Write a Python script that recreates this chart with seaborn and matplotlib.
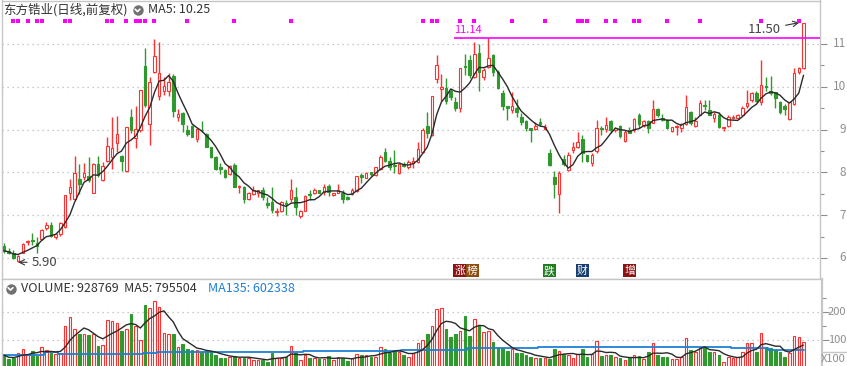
import numpy as np
import pandas as pd
import matplotlib
matplotlib.use("Agg")
import matplotlib.pyplot as plt
import matplotlib.transforms as mtransforms
from matplotlib.lines import Line2D
import seaborn as sns

# daily candles (前复权)
opens = [6.28, 6.17, 6.11, 5.94, 6.12, 6.38, 6.42, 6.34, 6.44, 6.69,
         6.77, 6.48, 6.56, 6.72, 7.53, 7.39, 7.84, 7.90, 7.92, 7.53,
         8.20, 7.82, 8.27, 8.37, 8.68, 8.38, 8.04, 9.29, 8.80, 8.99,
         10.49, 9.12, 10.35, 9.79, 9.91, 9.91, 10.25, 9.29, 9.38, 8.99,
         9.08, 8.77, 9.00, 8.90, 8.59, 8.35, 8.13, 8.06, 7.96, 8.17,
         7.65, 7.67, 7.37, 7.50, 7.51, 7.59, 7.29, 7.32, 7.07, 7.10,
         7.28, 7.37, 7.42, 6.98, 7.10, 7.48, 7.51, 7.59, 7.55, 7.68,
         7.47, 7.53, 7.53, 7.43, 7.50, 7.57, 7.94, 7.88, 8.00, 7.94,
         8.07, 8.48, 8.27, 8.17, 7.98, 8.20, 8.13, 8.21, 8.25, 8.48,
         9.09, 8.87, 10.18, 9.96, 9.98, 9.90, 9.64, 9.50, 10.49, 10.63,
         10.24, 10.78, 10.24, 10.47, 10.74, 10.34, 9.85, 9.54, 9.46, 9.50,
         9.30, 9.19, 9.03, 9.01, 9.18, 9.01, 8.45, 7.90, 7.49, 8.31,
         8.06, 8.52, 8.60, 8.78, 8.41, 8.21, 8.49, 9.03, 9.01, 9.21,
         8.99, 9.08, 8.74, 9.00, 8.98, 9.34, 9.11, 9.19, 9.16, 9.47,
         9.26, 9.22, 8.97, 9.05, 9.03, 9.13, 9.40, 9.08, 9.34, 9.58,
         9.46, 9.26, 9.34, 9.03, 9.09, 9.26, 9.28, 9.34, 9.54, 9.69,
         9.85, 9.64, 10.03, 9.90, 9.87, 9.64, 9.56, 9.25, 9.59, 10.34,
         10.45]
highs = [6.34, 6.23, 6.19, 6.07, 6.34, 6.42, 6.59, 6.50, 6.67, 6.83,
         6.83, 6.59, 6.85, 7.47, 7.84, 8.38, 8.20, 8.23, 8.35, 8.23,
         8.38, 8.25, 8.82, 9.30, 9.32, 8.41, 9.07, 9.49, 9.55, 9.93,
         10.90, 10.24, 11.11, 11.05, 10.24, 10.33, 10.31, 9.47, 9.42, 9.11,
         9.11, 9.03, 9.21, 8.91, 8.59, 8.38, 8.21, 8.07, 8.17, 8.21,
         7.71, 7.68, 7.55, 7.68, 7.60, 7.67, 7.43, 7.67, 7.16, 7.34,
         7.36, 7.84, 7.65, 7.12, 7.47, 7.60, 7.63, 7.60, 7.74, 7.73,
         7.53, 7.74, 7.60, 7.45, 7.63, 7.92, 7.98, 8.00, 8.02, 8.13,
         8.41, 8.56, 8.35, 8.52, 8.21, 8.25, 8.29, 8.37, 8.70, 9.03,
         9.40, 9.79, 10.74, 10.29, 10.20, 9.95, 9.75, 10.45, 10.76, 10.74,
         11.05, 10.99, 10.45, 11.14, 10.76, 10.39, 9.92, 9.54, 9.89, 9.71,
         9.38, 9.22, 9.03, 9.18, 9.26, 9.12, 8.55, 8.03, 8.03, 8.41,
         8.48, 8.72, 8.95, 8.87, 8.41, 8.45, 9.22, 9.08, 9.30, 9.22,
         9.07, 9.11, 8.99, 9.05, 9.26, 9.38, 9.22, 9.22, 9.68, 9.50,
         9.36, 9.24, 9.07, 9.11, 9.16, 9.81, 9.44, 9.30, 9.69, 9.69,
         9.69, 9.40, 9.42, 9.07, 9.34, 9.34, 9.36, 9.54, 9.93, 9.87,
         9.90, 10.63, 10.24, 10.26, 9.89, 9.67, 9.59, 9.65, 10.45, 10.47,
         11.50]
lows = [6.12, 6.09, 5.97, 5.90, 6.11, 6.30, 6.30, 6.12, 6.42, 6.65,
        6.50, 6.45, 6.51, 6.69, 7.35, 7.35, 7.50, 7.82, 7.78, 7.51,
        7.90, 7.81, 8.25, 8.07, 8.48, 8.04, 8.02, 8.91, 8.56, 8.95,
        9.52, 8.64, 10.33, 9.69, 9.81, 9.79, 9.30, 9.19, 8.95, 8.85,
        8.82, 8.72, 8.95, 8.59, 8.33, 8.06, 7.96, 7.88, 7.94, 7.65,
        7.51, 7.28, 7.35, 7.47, 7.43, 7.35, 7.16, 7.06, 6.97, 7.08,
        7.00, 7.32, 7.00, 6.93, 7.09, 7.36, 7.50, 7.52, 7.47, 7.45,
        7.45, 7.51, 7.28, 7.36, 7.47, 7.55, 7.76, 7.87, 7.92, 7.92,
        8.06, 8.25, 8.06, 7.98, 7.97, 8.12, 8.07, 8.10, 8.21, 8.45,
        8.80, 8.86, 10.08, 9.67, 9.59, 9.69, 9.43, 9.40, 10.28, 10.21,
        10.21, 9.90, 10.16, 10.45, 10.26, 9.96, 9.46, 9.22, 9.38, 9.30,
        9.11, 8.97, 8.72, 8.99, 9.09, 8.99, 8.16, 7.41, 7.04, 8.14,
        8.04, 8.46, 8.56, 8.25, 8.25, 8.15, 8.46, 8.87, 8.95, 8.93,
        8.95, 8.80, 8.72, 8.91, 8.95, 9.03, 9.07, 8.91, 9.15, 9.30,
        9.21, 9.01, 8.95, 8.87, 8.95, 9.11, 9.11, 9.07, 9.33, 9.46,
        9.34, 9.17, 9.03, 8.97, 9.07, 9.25, 9.25, 9.33, 9.51, 9.64,
        9.64, 9.58, 9.90, 9.81, 9.51, 9.36, 9.33, 9.22, 9.58, 10.29,
        10.42]
closes = [6.17, 6.12, 5.99, 6.05, 6.33, 6.40, 6.40, 6.27, 6.65, 6.77,
          6.52, 6.56, 6.81, 7.47, 7.67, 7.98, 7.73, 7.98, 7.82, 8.20,
          7.94, 8.15, 8.62, 8.56, 8.90, 8.27, 9.07, 8.98, 9.01, 9.93,
          9.57, 10.12, 10.72, 10.33, 10.02, 10.12, 9.44, 9.36, 9.13, 8.90,
          8.83, 9.01, 8.98, 8.60, 8.35, 8.09, 8.09, 7.90, 8.15, 7.67,
          7.68, 7.39, 7.51, 7.60, 7.59, 7.43, 7.24, 7.11, 7.10, 7.32,
          7.26, 7.60, 7.18, 7.10, 7.46, 7.47, 7.60, 7.53, 7.65, 7.55,
          7.51, 7.59, 7.39, 7.37, 7.59, 7.92, 7.90, 7.99, 7.97, 8.12,
          8.37, 8.27, 8.12, 8.15, 8.20, 8.15, 8.25, 8.27, 8.54, 8.99,
          8.91, 9.79, 10.52, 10.00, 9.67, 9.77, 9.51, 10.43, 10.47, 10.27,
          10.76, 10.34, 10.39, 10.68, 10.34, 9.98, 9.54, 9.50, 9.54, 9.40,
          9.17, 9.03, 9.00, 9.09, 9.12, 9.07, 8.17, 7.74, 7.98, 8.20,
          8.41, 8.59, 8.72, 8.45, 8.27, 8.41, 9.03, 9.01, 9.11, 8.99,
          9.03, 8.85, 8.95, 8.93, 9.24, 9.13, 9.19, 9.03, 9.47, 9.34,
          9.22, 9.03, 9.05, 9.08, 9.13, 9.52, 9.16, 9.21, 9.61, 9.56,
          9.34, 9.36, 9.07, 9.07, 9.30, 9.30, 9.33, 9.51, 9.61, 9.85,
          9.67, 10.04, 10.00, 9.85, 9.73, 9.40, 9.48, 9.64, 10.32, 10.43,
          11.48]
# volume in units of 10000
volumes = [46, 31, 35, 52, 68, 49, 61, 43, 75, 63,
           54, 50, 55, 150, 182, 139, 121, 122, 118, 122,
           78, 81, 171, 167, 162, 132, 138, 193, 151, 100,
           225, 214, 239, 218, 124, 120, 121, 74, 86, 68,
           65, 63, 58, 61, 56, 46, 37, 35, 41, 43,
           37, 37, 35, 29, 29, 29, 23, 55, 37, 37,
           41, 78, 52, 27, 46, 37, 37, 32, 32, 44,
           27, 41, 35, 25, 35, 49, 46, 46, 41, 41,
           75, 68, 52, 64, 56, 46, 41, 52, 88, 100,
           121, 150, 211, 213, 139, 111, 121, 132, 186, 114,
           174, 154, 127, 132, 94, 73, 73, 61, 68, 52,
           52, 46, 41, 37, 37, 37, 32, 68, 61, 49,
           46, 35, 49, 68, 41, 49, 96, 44, 46, 46,
           41, 35, 29, 35, 46, 43, 32, 56, 88, 46,
           41, 41, 32, 32, 41, 106, 64, 56, 76, 76,
           56, 56, 46, 23, 41, 35, 41, 58, 91, 88,
           56, 124, 76, 70, 64, 56, 41, 52, 114, 109,
           93]
# MA135 of volume (starts before the visible window), read as levels + run lengths
ma135_levels = [46, 56, 50, 55, 58, 61, 64, 73, 75, 76, 70, 64]
ma135_runs = [9, 3, 18, 3, 31, 21, 14, 15, 4, 37, 8, 8]

# header readouts as printed on the chart
ma5_last = 10.25
vol_last, vol_ma5_last, vol_ma135_last = 928769, 795504, 602338

signal_days = [2, 3, 5, 7, 8, 13, 14, 22, 23, 26, 28, 29, 30, 32, 39, 49, 61,
               89, 91, 92, 97, 100, 108, 115, 122, 123, 124, 128, 130, 134,
               135, 141, 148, 161, 169]
tag_days = [97, 116, 123, 133]
tag_texts = ["涨榜", "跌", "财", "增"]
tag_colors = [["#8c1414", "#8c4e10"], ["#1f7d1f"], ["#183f70"], ["#8c1414"]]

price_ticks = [6, 7, 8, 9, 10, 11]
vol_ticks = [100, 200]

RED = "#ff3030"
GREEN = "#2f982f"
GRID = "#b8b8b8"
FRAME = "#c6c6c6"
TICKC = "#8e8e8e"

sns.set_style("white")
plt.rcParams['font.family'] = ['Noto Sans CJK SC', 'DejaVu Sans']

W, H = 847, 366
fig = plt.figure(figsize=(W / 100, H / 100), dpi=100)
fig.patch.set_facecolor("white")


def fx(px):
    return px / W


def fy(py):
    return 1 - py / H


# pixel geometry of the two panels
X0, DX = 4.0, 4.703          # first candle centre and spacing in px
PY11, PPU = 44.0, 42.8       # px of price 11 and px per yuan
VPX0, VPPU = 368.0, 0.28     # px of volume 0 and px per unit
L, R_P, R_V, SEP = 1.5, 820, 822, 279

ax = fig.add_axes([fx(L), fy(SEP), fx(R_P) - fx(L), (SEP - 0.5) / H])
axv = fig.add_axes([fx(L), fy(VPX0), fx(R_V) - fx(L), (VPX0 - SEP) / H])

ax.set_xlim((L - X0) / DX, (R_P - X0) / DX)
ax.set_ylim(11 - (SEP - PY11) / PPU, 11 + (PY11 - 0.5) / PPU)
axv.set_xlim((L - X0) / DX, (R_V - X0) / DX)
axv.set_ylim(0, (VPX0 - SEP) / VPPU)

df = pd.DataFrame({"open": opens, "high": highs, "low": lows,
                   "close": closes, "volume": volumes})
df["idx"] = np.arange(len(df))
df["up"] = df["close"] >= df["open"]
df["ma5"] = df["close"].rolling(5, min_periods=1).mean()
df["vma5"] = df["volume"].rolling(5, min_periods=1).mean()
df["vma135"] = np.repeat(ma135_levels, ma135_runs)

edge = np.where(df["up"], RED, GREEN)
face = np.where(df["up"], "white", GREEN)

# grid
for p in price_ticks:
    ax.axhline(p, color=GRID, ls=(0, (1, 3)), lw=0.9, zorder=0)
for v in vol_ticks:
    axv.axhline(v, color=GRID, ls=(0, (1, 3)), lw=0.9, zorder=0)

# candles
ax.vlines(df["idx"], df["low"], df["high"], colors=edge, lw=1, zorder=2)
body_lo = np.minimum(df["open"], df["close"])
body_h = np.maximum((df["close"] - df["open"]).abs(), 0.015)
ax.bar(df["idx"], body_h, bottom=body_lo, width=0.55, color=face,
       edgecolor=edge, linewidth=0.8, zorder=3)
sns.lineplot(x=df["idx"], y=df["ma5"], ax=ax, color="#2a2a2a", lw=1,
             zorder=4, legend=False)

# volume bars
axv.bar(df["idx"], df["volume"], width=0.55, color=face, edgecolor=edge,
        linewidth=0.8, zorder=2)
sns.lineplot(x=df["idx"], y=df["vma5"], ax=axv, color="#2a2a2a", lw=1,
             zorder=4, legend=False)
axv.plot(df["idx"], df["vma135"], color="#1f7fd6", lw=1.3,
         drawstyle="steps-mid", zorder=3)

# signal dots along the top
ax.scatter(signal_days, [11.54] * len(signal_days), marker="s", s=6,
           color="#ff00ff", linewidths=0, zorder=5)

# highest-high line and label
hi_day = int(np.argmax(highs[:150]))
hi_val = highs[hi_day]
ax.hlines(hi_val, hi_day - 7.4, ax.get_xlim()[1], color="#ff00ff", lw=1.2,
          zorder=5)
ax.text(hi_day - 7.4, hi_val + 0.06, f"{hi_val:.2f}", color="#ff00ff",
        fontsize=8, ha="left", va="bottom")

# last high and period low annotations
last = len(df) - 1
ax.annotate(f"{highs[last]:.2f}", xy=(last - 0.9, highs[last]),
            xytext=(last - 4.8, highs[last] - 0.16), ha="right", va="center",
            fontsize=9.5, color="#454545",
            arrowprops=dict(arrowstyle="->", color="#333333", lw=0.8,
                            shrinkA=1, shrinkB=0))
lo_day = int(np.argmin(lows))
ax.annotate(f"{lows[lo_day]:.2f}", xy=(lo_day, lows[lo_day]),
            xytext=(lo_day + 2.9, lows[lo_day]), ha="left", va="center",
            fontsize=9.5, color="#454545",
            arrowprops=dict(arrowstyle="->", color="#333333", lw=0.8,
                            shrinkA=1, shrinkB=0))

# event tags along the bottom
tb = mtransforms.blended_transform_factory(ax.transData, ax.transAxes)
for d, txt, cols in zip(tag_days, tag_texts, tag_colors):
    for k, (ch, c) in enumerate(zip(txt, cols)):
        ax.text(d + k * 2.65, 0.03, ch, transform=tb, fontsize=7.8,
                color="white", ha="center", va="center",
                bbox=dict(boxstyle="square,pad=0.12", fc=c, ec="none"))

# right axis ticks
for a, major, minor in ((ax, price_ticks, [6.5, 7.5, 8.5, 9.5, 10.5]),
                        (axv, vol_ticks, [150, 250])):
    a.yaxis.tick_right()
    a.set_yticks(major)
    a.set_yticks(minor, minor=True)
    a.tick_params(axis="y", which="major", length=5, width=0.8, color=TICKC,
                  labelright=False)
    a.tick_params(axis="y", which="minor", length=3, width=0.8, color=TICKC)
    a.set_xticks([])
    a.set_xlabel("")
    a.set_ylabel("")
    for s in ("left", "right", "top", "bottom"):
        a.spines[s].set_color(FRAME)
        a.spines[s].set_linewidth(1)
axv.spines["right"].set_linewidth(1.6)

# tick labels: the panel is narrow, so they sit flush with the right edge
ty = mtransforms.blended_transform_factory(fig.transFigure, ax.transData)
for p in price_ticks:
    ax.text(fx(846), p, f"{p}", transform=ty, ha="right", va="center",
            fontsize=8.5, color=TICKC, clip_on=False)
tyv = mtransforms.blended_transform_factory(fig.transFigure, axv.transData)
for v in vol_ticks:
    axv.text(fx(846), v, f"{v}", transform=tyv, ha="right", va="center",
             fontsize=8, color=TICKC, clip_on=False)

fig.add_artist(Line2D([fx(R_V), 1], [fy(352), fy(352)], color=FRAME, lw=1))
fig.text(fx(846), fy(359), "X100", fontsize=8, color=TICKC,
         ha="right", va="center")


def icon(px, py):
    fig.add_artist(Line2D([fx(px)], [fy(py)], marker="o", ms=7.5,
                          color="#707070", mec="none"))
    fig.add_artist(Line2D([fx(px - 2.4), fx(px), fx(px + 2.4)],
                          [fy(py - 0.8), fy(py + 1.6), fy(py - 0.8)],
                          color="white", lw=1.2))


# headers
fig.text(fx(3), fy(9.5), "东方锆业(日线,前复权)", fontsize=9, color="#333333",
         ha="left", va="center")
icon(137.5, 10)
fig.text(fx(148), fy(9.5), f"MA5: {ma5_last:.2f}", fontsize=9,
         color="#333333", ha="left", va="center")

icon(10.5, 288.5)
fig.text(fx(20.5), fy(288), f"VOLUME: {vol_last}  MA5: {vol_ma5_last}",
         fontsize=9, color="#333333", ha="left", va="center")
fig.text(fx(208), fy(288), f"MA135: {vol_ma135_last}", fontsize=9,
         color="#1f7fd6", ha="left", va="center")

fig.savefig("out.png", dpi=100)
